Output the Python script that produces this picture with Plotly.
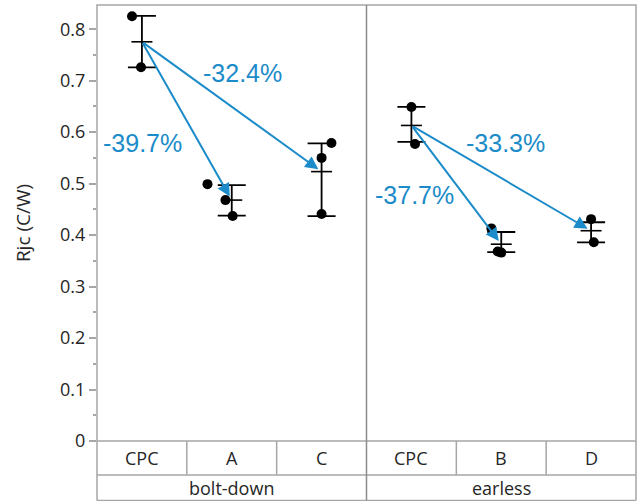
import plotly.graph_objects as go
import numpy as np

# ---- data ----
categories = ["CPC", "A", "C", "CPC", "B", "D"]
groups = ["bolt-down", "earless"]
group_of_cat = [0, 0, 0, 1, 1, 1]

# individual measurements (Rjc, C/W) per category
points = [
    [0.825, 0.726],
    [0.499, 0.468, 0.437],
    [0.579, 0.550, 0.441],
    [0.649, 0.577],
    [0.413, 0.368, 0.366],
    [0.431, 0.386],
]
# horizontal jitter of the dots (fraction of category width)
jitter = [
    [-0.11, -0.01],
    [-0.27, -0.07, 0.01],
    [0.11, 0.0, 0.0],
    [0.0, 0.04],
    [-0.11, -0.04, 0.0],
    [0.0, 0.03],
]
err_hi = [0.826, 0.497, 0.578, 0.649, 0.406, 0.425]
err_lo = [0.726, 0.438, 0.437, 0.581, 0.367, 0.386]

# arrows: (from category, to category, label)
arrows = [(0, 1, "-39.7%"), (0, 2, "-32.4%"), (3, 4, "-37.7%"), (3, 5, "-33.3%")]
label_pos = {"-39.7%": (0.01, 0.579), "-32.4%": (1.125, 0.715),
             "-37.7%": (3.03, 0.478), "-33.3%": (4.05, 0.579)}

yticks = [0, 0.1, 0.2, 0.3, 0.4, 0.5, 0.6, 0.7, 0.8]
ytick_text = ["0", "0.1", "0.2", "0.3", "0.4", "0.5", "0.6", "0.7", "0.8"]

means = [float(np.mean(p)) for p in points]

W, H = 637, 501
ML, MR, MT, MB = 97, 1, 5, 60
plot_h = H - MT - MB
YMAX = 0.847
blue = "#1b8bc9"
gray = "#a6a6a6"
txtcol = "#262626"
tickfont = dict(family="Open Sans, Noto Sans, sans-serif", size=18, color=txtcol)

fig = go.Figure()

# dots
xs, ys = [], []
for i, (pts, jit) in enumerate(zip(points, jitter)):
    for v, j in zip(pts, jit):
        xs.append(i + j)
        ys.append(v)
fig.add_trace(go.Scatter(x=xs, y=ys, mode="markers",
                         marker=dict(color="black", size=10), showlegend=False,
                         hoverinfo="skip"))

# error bars and mean ticks
cx = list(range(len(categories)))
fig.add_trace(go.Scatter(
    x=cx, y=means, mode="markers",
    marker=dict(symbol="line-ew", size=15, line=dict(color="black", width=1.6), color="black"),
    error_y=dict(type="data", symmetric=False,
                 array=[h - m for h, m in zip(err_hi, means)],
                 arrayminus=[m - l for l, m in zip(err_lo, means)],
                 color="black", thickness=1.8, width=14),
    showlegend=False, hoverinfo="skip"))

annotations = []
for a, b, lab in arrows:
    annotations.append(dict(x=b, y=means[b], ax=a, ay=means[a], xref="x", yref="y",
                            axref="x", ayref="y", showarrow=True, arrowhead=2,
                            arrowsize=1.3, arrowwidth=2, arrowcolor=blue, standoff=4,
                            text=""))
    lx, ly = label_pos[lab]
    annotations.append(dict(x=lx, y=ly, xref="x", yref="y", text=lab, showarrow=False,
                            xanchor="center", yanchor="middle",
                            font=dict(family="Liberation Sans, Arial, sans-serif",
                                      size=25, color=blue)))

n = len(categories)
def px(i):
    return (i + 0.5) / n

row1 = -34 / plot_h
row2 = -59.5 / plot_h
shapes = []
# plot frame
shapes.append(dict(type="rect", xref="paper", yref="paper", x0=0, x1=1, y0=0, y1=1,
                   line=dict(color=gray, width=1.5)))
# outer table borders
for xv in [0, 1]:
    shapes.append(dict(type="line", xref="paper", yref="paper", x0=xv, x1=xv,
                       y0=row2, y1=0, line=dict(color=gray, width=1.5)))
shapes.append(dict(type="line", xref="paper", yref="paper", x0=0, x1=1, y0=row1, y1=row1,
                   line=dict(color=gray, width=1.5)))
shapes.append(dict(type="line", xref="paper", yref="paper", x0=0, x1=1, y0=row2, y1=row2,
                   line=dict(color=gray, width=1.5)))
# group divider
for i in range(1, n):
    if group_of_cat[i] != group_of_cat[i - 1]:
        shapes.append(dict(type="line", xref="paper", yref="paper", x0=i / n, x1=i / n,
                           y0=row2, y1=1, line=dict(color="#8c8c8c", width=1.5)))
    else:
        shapes.append(dict(type="line", xref="paper", yref="paper", x0=i / n, x1=i / n,
                           y0=row1, y1=0, line=dict(color=gray, width=1.5)))

labfont = dict(family="Open Sans, Noto Sans, sans-serif", size=18, color=txtcol)
for i, c in enumerate(categories):
    annotations.append(dict(x=px(i), y=row1 / 2, xref="paper", yref="paper", text=c,
                            showarrow=False, font=labfont, xanchor="center",
                            yanchor="middle"))
for g, name in enumerate(groups):
    idx = [i for i in range(n) if group_of_cat[i] == g]
    xc = (idx[0] + idx[-1] + 1) / 2 / n
    annotations.append(dict(x=xc, y=(row1 + row2) / 2, xref="paper", yref="paper",
                            text=name, showarrow=False, font=labfont, xanchor="center",
                            yanchor="middle"))

fig.update_layout(
    width=W, height=H, margin=dict(l=ML, r=MR, t=MT, b=MB, autoexpand=False),
    paper_bgcolor="white", plot_bgcolor="white",
    xaxis=dict(range=[-0.5, n - 0.5], showgrid=False, zeroline=False, showticklabels=False,
               ticks="", showline=False, fixedrange=True),
    yaxis=dict(range=[0, YMAX], tickvals=yticks, ticktext=ytick_text, ticks="outside",
               ticklen=7, tickcolor=gray, tickwidth=1.5, showgrid=False, zeroline=False,
               showline=False, tickfont=tickfont, automargin=False,
               minor=dict(tickvals=[0.05, 0.15, 0.25, 0.35, 0.45, 0.55, 0.65, 0.75, 0.85],
                          ticks="outside", ticklen=3, tickcolor=gray, tickwidth=1.5),
               title=dict(text="Rjc (C/W)", standoff=24,
                          font=dict(family="Open Sans, Noto Sans, sans-serif", size=19,
                                    color=txtcol))),
    shapes=shapes, annotations=annotations,
)

fig.write_html("out.html", config={"displayModeBar": False},
               post_script="document.body.style.margin='0';")
